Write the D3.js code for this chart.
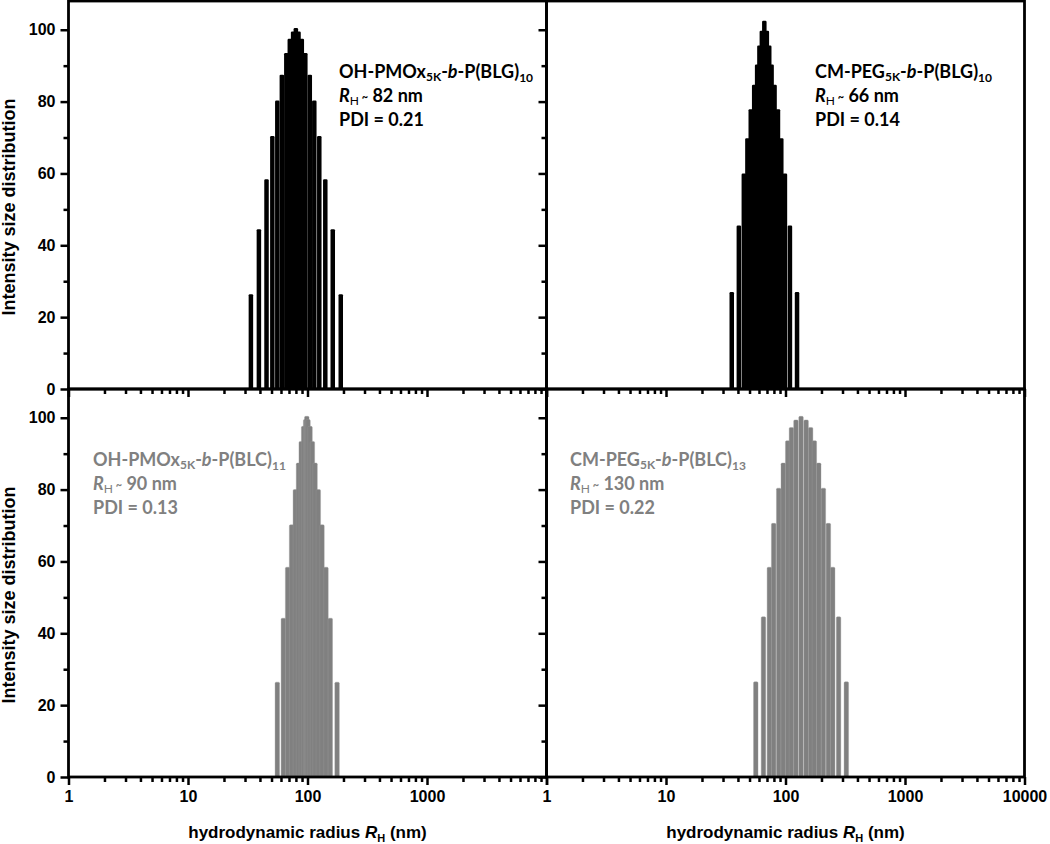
<!DOCTYPE html>
<html>
<script src='https://d3js.org/d3.v7.min.js'></script>
<style>
body {margin: 0; background: #fff;}
svg text {font-family: 'Liberation Sans', Arial, sans-serif; font-weight: bold;}
.axis path {display: none;}
.axis line {stroke: #000; stroke-width: 2.5;}
.axis text {font-size: 16px; fill: #000;}
text.note {font-family: Lato, 'Open Sans', sans-serif; font-size: 18px;}
</style>
<body>
<script>
// hydrodynamic radius (nm) and intensity for each sample
var radiiOhBlg = [33.6, 39.2, 45.4, 50.8, 55.9, 61.0, 66.5, 71.1, 75.8, 79.9, 84.1, 89.6, 95.9, 104.5, 114.0, 125.5, 140.9, 162.7, 189.8];
var intensityOhBlg = [26.4, 44.5, 58.4, 70.4, 80.3, 87.5, 93.5, 97.5, 99.5, 100.5, 99.5, 97.5, 93.5, 87.5, 80.3, 70.4, 58.4, 44.5, 26.4];

var radiiCmBlg = [35.5, 40.7, 44.8, 48.0, 51.2, 54.7, 57.9, 60.5, 63.4, 66.5, 69.8, 73.1, 76.5, 81.0, 86.5, 92.2, 98.9, 108.9, 124.9];
var intensityCmBlg = [27, 45.5, 60, 69.8, 77.9, 84.7, 90.3, 95.6, 99.7, 102.5, 99.7, 95.6, 90.3, 84.7, 77.9, 69.8, 60, 45.5, 27];

var radiiOhBlc = [55.9, 62.8, 68.2, 73.6, 79.1, 84.1, 88.6, 92.8, 96.4, 98.6, 101.0, 105.0, 109.9, 115.7, 123.1, 132.2, 142.8, 155.1, 176.8];
var intensityOhBlc = [26.4, 44.2, 58.4, 70.2, 80.0, 87.4, 93.4, 97.6, 99.5, 100.4, 99.5, 97.6, 93.4, 87.4, 80.0, 70.2, 58.4, 44.2, 26.4];

var radiiCmBlc = [56.4, 65.4, 73.3, 79.6, 87.7, 95.8, 104.3, 112.1, 122.3, 134.9, 148.8, 162.3, 174.4, 189.8, 207.5, 228.5, 248.3, 278.1, 322.8];
var intensityCmBlc = [26.5, 44.6, 58.4, 70.6, 80.4, 87.4, 93.6, 97.3, 99.4, 100.4, 99.4, 97.3, 93.6, 87.4, 80.4, 70.6, 58.4, 44.6, 26.5];

// labels
var shellNames = ['OH-PMOx', 'CM-PEG', 'OH-PMOx', 'CM-PEG'];
var coreNames = ['BLG', 'BLG', 'BLC', 'BLC'];
var coreLengths = ['10', '10', '11', '13'];
var rhValues = ['82', '66', '90', '130'];
var pdiValues = ['0.21', '0.14', '0.13', '0.22'];

var yTicks = [0, 20, 40, 60, 80, 100];
var yMinorTicks = [10, 30, 50, 70, 90];
var xTicks = [1, 10, 100, 1000, 10000];
var xTickLabels = ['1', '10', '100', '1000', '10000'];

var panels = [
  {radii: radiiOhBlg, values: intensityOhBlg, color: '#000', noteX: 339},
  {radii: radiiCmBlg, values: intensityCmBlg, color: '#000', noteX: 815},
  {radii: radiiOhBlc, values: intensityOhBlc, color: '#808080', noteX: 93},
  {radii: radiiCmBlc, values: intensityCmBlc, color: '#808080', noteX: 570}
];

var W = 478, H = 388;
var colX = [68.5, 546.5], rowY = [1, 389];
var barWidth = 4.5;

var x = d3.scaleLog().domain([1, 10000]).range([0, W]);
var y = d3.scaleLinear().domain([0, 108]).range([H, 0]);

var xMinorTicks = [];
[1, 10, 100, 1000].forEach(function(d) {
  for (var k = 2; k < 10; k++) xMinorTicks.push(d * k);
});

var svg = d3.select('body').append('svg')
  .attr('width', 1050)
  .attr('height', 844);

panels.forEach(function(p, i) {
  var col = i % 2, row = Math.floor(i / 2);
  var g = svg.append('g')
    .attr('transform', 'translate(' + colX[col] + ',' + rowY[row] + ')');

  // bars
  g.selectAll('rect.bar')
    .data(d3.zip(p.radii, p.values))
    .enter().append('rect')
    .attr('class', 'bar')
    .attr('x', function(d) { return x(d[0]) - barWidth / 2; })
    .attr('y', function(d) { return y(d[1]); })
    .attr('width', barWidth)
    .attr('height', function(d) { return y(0) - y(d[1]); })
    .attr('rx', 1.2)
    .style('fill', p.color)
    .style('stroke', row == 1 ? '#999' : 'none')
    .style('stroke-width', 0.35);

  // y axis
  g.append('g').attr('class', 'axis')
    .call(d3.axisLeft(y).tickValues(yTicks).tickSize(8).tickPadding(5)
      .tickFormat(function(d) { return col == 0 ? d : ''; }));
  g.append('g').attr('class', 'axis')
    .call(d3.axisLeft(y).tickValues(yMinorTicks).tickSize(5).tickFormat(''));

  // x axis
  g.append('g').attr('class', 'axis')
    .attr('transform', 'translate(0,' + H + ')')
    .call(d3.axisBottom(x).tickValues(xTicks).tickSize(8).tickPadding(6)
      .tickFormat(function(d, j) {
        if (row == 0 || (col == 0 && d == 10000)) return '';
        return xTickLabels[j];
      }));
  g.append('g').attr('class', 'axis')
    .attr('transform', 'translate(0,' + H + ')')
    .call(d3.axisBottom(x).tickValues(xMinorTicks).tickSize(5).tickFormat(''));

  // frame
  g.append('rect')
    .attr('width', W)
    .attr('height', H)
    .style('fill', 'none')
    .style('stroke', '#000')
    .style('stroke-width', 2.8);

  // annotation
  var t1 = g.append('text').attr('class', 'note')
    .attr('x', p.noteX - colX[col]).attr('y', 77)
    .style('fill', p.color);
  t1.append('tspan').text(shellNames[i]);
  t1.append('tspan').text('5K').style('font-size', '12px').attr('dy', 3);
  t1.append('tspan').text('-').attr('dy', -3);
  t1.append('tspan').text('b').style('font-style', 'italic');
  t1.append('tspan').text('-P(' + coreNames[i] + ')');
  t1.append('tspan').text(coreLengths[i]).style('font-size', '12px').attr('dy', 4);

  var t2 = g.append('text').attr('class', 'note')
    .attr('x', p.noteX - colX[col]).attr('y', 101)
    .style('fill', p.color);
  t2.append('tspan').text('R').style('font-style', 'italic');
  t2.append('tspan').text('H').style('font-size', '12px').style('font-weight', 'normal').attr('dy', 3);
  t2.append('tspan').text(' ~').style('font-size', '11px').attr('dy', -4);
  t2.append('tspan').text(' ' + rhValues[i] + ' nm').attr('dy', 1);

  g.append('text').attr('class', 'note')
    .attr('x', p.noteX - colX[col]).attr('y', 125)
    .style('fill', p.color)
    .text('PDI = ' + pdiValues[i]);

  // axis titles
  if (col == 0) {
    svg.append('text')
      .attr('transform', 'translate(15,' + (rowY[row] + 206) + ') rotate(-90)')
      .attr('text-anchor', 'middle')
      .style('font-size', '18px')
      .text('Intensity size distribution');
  }
  if (row == 1) {
    var xt = svg.append('text')
      .attr('x', colX[col] + W / 2)
      .attr('y', 838)
      .attr('text-anchor', 'middle')
      .style('font-size', '17px');
    xt.append('tspan').text('hydrodynamic radius ');
    xt.append('tspan').text('R').style('font-style', 'italic');
    xt.append('tspan').text('H').style('font-size', '11px').attr('dy', 4);
    xt.append('tspan').text(' (nm)').attr('dy', -4);
  }
});
</script>
</body>
</html>
